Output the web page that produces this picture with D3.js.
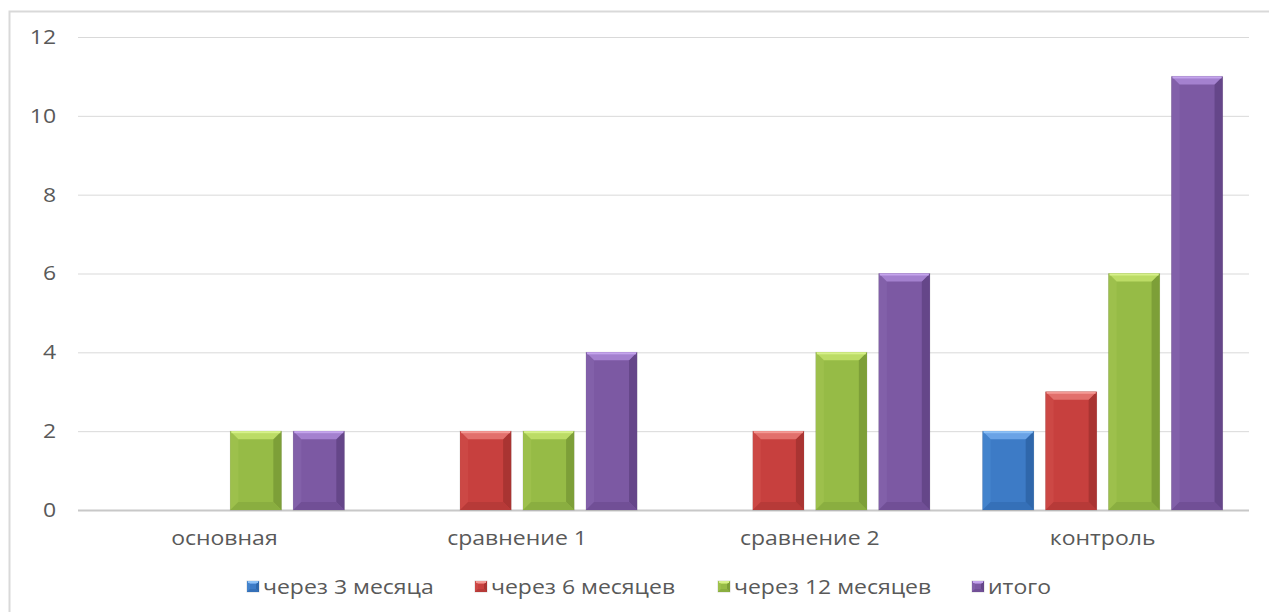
<!DOCTYPE html>
<html>
<head>
<meta charset="utf-8">
<script src="https://cdn.jsdelivr.net/npm/d3@7"></script>
<style>
  body { margin: 0; background: #fff; }
  svg { display: block; font-family: "Open Sans", "Noto Sans", sans-serif; }
</style>
</head>
<body>
<svg id="chart" width="1269" height="612"></svg>
<script>
// data
var categories = ["основная", "сравнение 1", "сравнение 2", "контроль"];
var seriesNames = ["через 3 месяца", "через 6 месяцев", "через 12 месяцев", "итого"];
var v3 = [0, 0, 0, 2];
var v6 = [0, 2, 2, 3];
var v12 = [2, 2, 4, 6];
var vTotal = [2, 4, 6, 11];
var yTicks = [0, 2, 4, 6, 8, 10, 12];

var seriesValues = [v3, v6, v12, vTotal];
// base, top bevel, left side, right side, bottom, top edge
var palette = [
    ["#3d7bc6", "#6aa3e6", "#4383cc", "#2f67ab", "#3570b8", "#8cc0f5"],
    ["#c7403e", "#e2706c", "#cc4845", "#a93432", "#b73a38", "#f39a95"],
    ["#96bb46", "#bcdc66", "#9dc04c", "#7d9f38", "#8aae40", "#d6f08a"],
    ["#7c59a3", "#a481cf", "#8260a9", "#654689", "#714f96", "#c4a4ec"]
];

var ctx = {
    left: 78, right: 1249, top: 37, bottom: 510,
    textColor: "#595959", gridColor: "#d9d9d9",
    fontSize: "20px", stretch: 1.15
};

var svg = d3.select("#chart");

// outer chart border (only top/left visible in the frame)
svg.append("rect")
    .attr("x", 9.5).attr("y", 11.5)
    .attr("width", 1300).attr("height", 640)
    .attr("fill", "none")
    .attr("stroke", "#d9d9d9")
    .attr("stroke-width", 2);

var x0 = d3.scaleBand()
    .domain(categories)
    .range([ctx.left, ctx.right]);

var x1 = d3.scaleBand()
    .domain(d3.range(seriesNames.length))
    .range([0, x0.bandwidth()])
    .paddingInner(0.19)
    .paddingOuter(0.42);

var y = d3.scaleLinear()
    .domain([0, 12])
    .range([ctx.bottom, ctx.top]);

// gridlines + y labels
var yAxis = svg.append("g")
    .attr("transform", "translate(" + ctx.left + ",0)")
    .call(d3.axisLeft(y).tickValues(yTicks).tickSize(-(ctx.right - ctx.left)).tickPadding(19));
yAxis.select(".domain").remove();
yAxis.selectAll(".tick line")
    .attr("stroke", (d) => d === 0 ? "#c8c8c8" : ctx.gridColor)
    .attr("stroke-width", (d) => d === 0 ? 2 : 1);
yAxis.selectAll(".tick text")
    .attr("fill", ctx.textColor)
    .attr("font-family", "Open Sans, sans-serif")
    .attr("font-size", ctx.fontSize)
    .attr("transform", "scale(" + ctx.stretch + ",1)");

// bars with bevel look
var bevel = function(g, bx, by, bw, bh, col, b) {
    if (bh <= 0) return;
    b = Math.min(b, bh / 2, bw / 2);
    g.append("rect")
        .attr("x", bx).attr("y", by).attr("width", bw).attr("height", bh)
        .attr("fill", col[0])
        .attr("stroke", "rgba(0,0,0,0.15)")
        .attr("stroke-width", 1);
    var pts = function(arr) { return arr.map((p) => p.join(",")).join(" "); };
    g.append("polygon").attr("fill", col[2])
        .attr("points", pts([[bx, by], [bx + b, by + b], [bx + b, by + bh - b], [bx, by + bh]]));
    g.append("polygon").attr("fill", col[3])
        .attr("points", pts([[bx + bw, by], [bx + bw - b, by + b], [bx + bw - b, by + bh - b], [bx + bw, by + bh]]));
    g.append("polygon").attr("fill", col[4])
        .attr("points", pts([[bx, by + bh], [bx + b, by + bh - b], [bx + bw - b, by + bh - b], [bx + bw, by + bh]]));
    g.append("polygon").attr("fill", col[1])
        .attr("points", pts([[bx, by], [bx + bw, by], [bx + bw - b, by + b], [bx + b, by + b]]));
    g.append("rect")
        .attr("x", bx + 1).attr("y", by).attr("width", bw - 2).attr("height", Math.min(2, bh))
        .attr("fill", col[5]);
};

var barsG = svg.append("g");
categories.forEach(function(c, i) {
    seriesValues.forEach(function(vals, s) {
        var v = vals[i];
        var bx = x0(c) + x1(s);
        bevel(barsG, bx, y(v), x1.bandwidth(), y(0) - y(v), palette[s], 8);
    });
});

// category labels
svg.append("g")
    .selectAll("text")
    .data(categories)
    .enter()
    .append("text")
    .attr("transform", (d) => "translate(" + (x0(d) + x0.bandwidth() / 2) + ",545) scale(" + ctx.stretch + ",1)")
    .attr("text-anchor", "middle")
    .attr("fill", ctx.textColor)
    .attr("font-size", ctx.fontSize)
    .text((d) => d);

// legend
var legendX = [247, 475, 718, 972];
var legendG = svg.append("g");
seriesNames.forEach(function(name, s) {
    bevel(legendG, legendX[s], 581, 12, 11, palette[s], 3);
    legendG.append("text")
        .attr("transform", "translate(" + (legendX[s] + 16) + ",594) scale(" + ctx.stretch + ",1)")
        .attr("fill", ctx.textColor)
        .attr("font-size", ctx.fontSize)
        .text(name);
});
</script>
</body>
</html>
